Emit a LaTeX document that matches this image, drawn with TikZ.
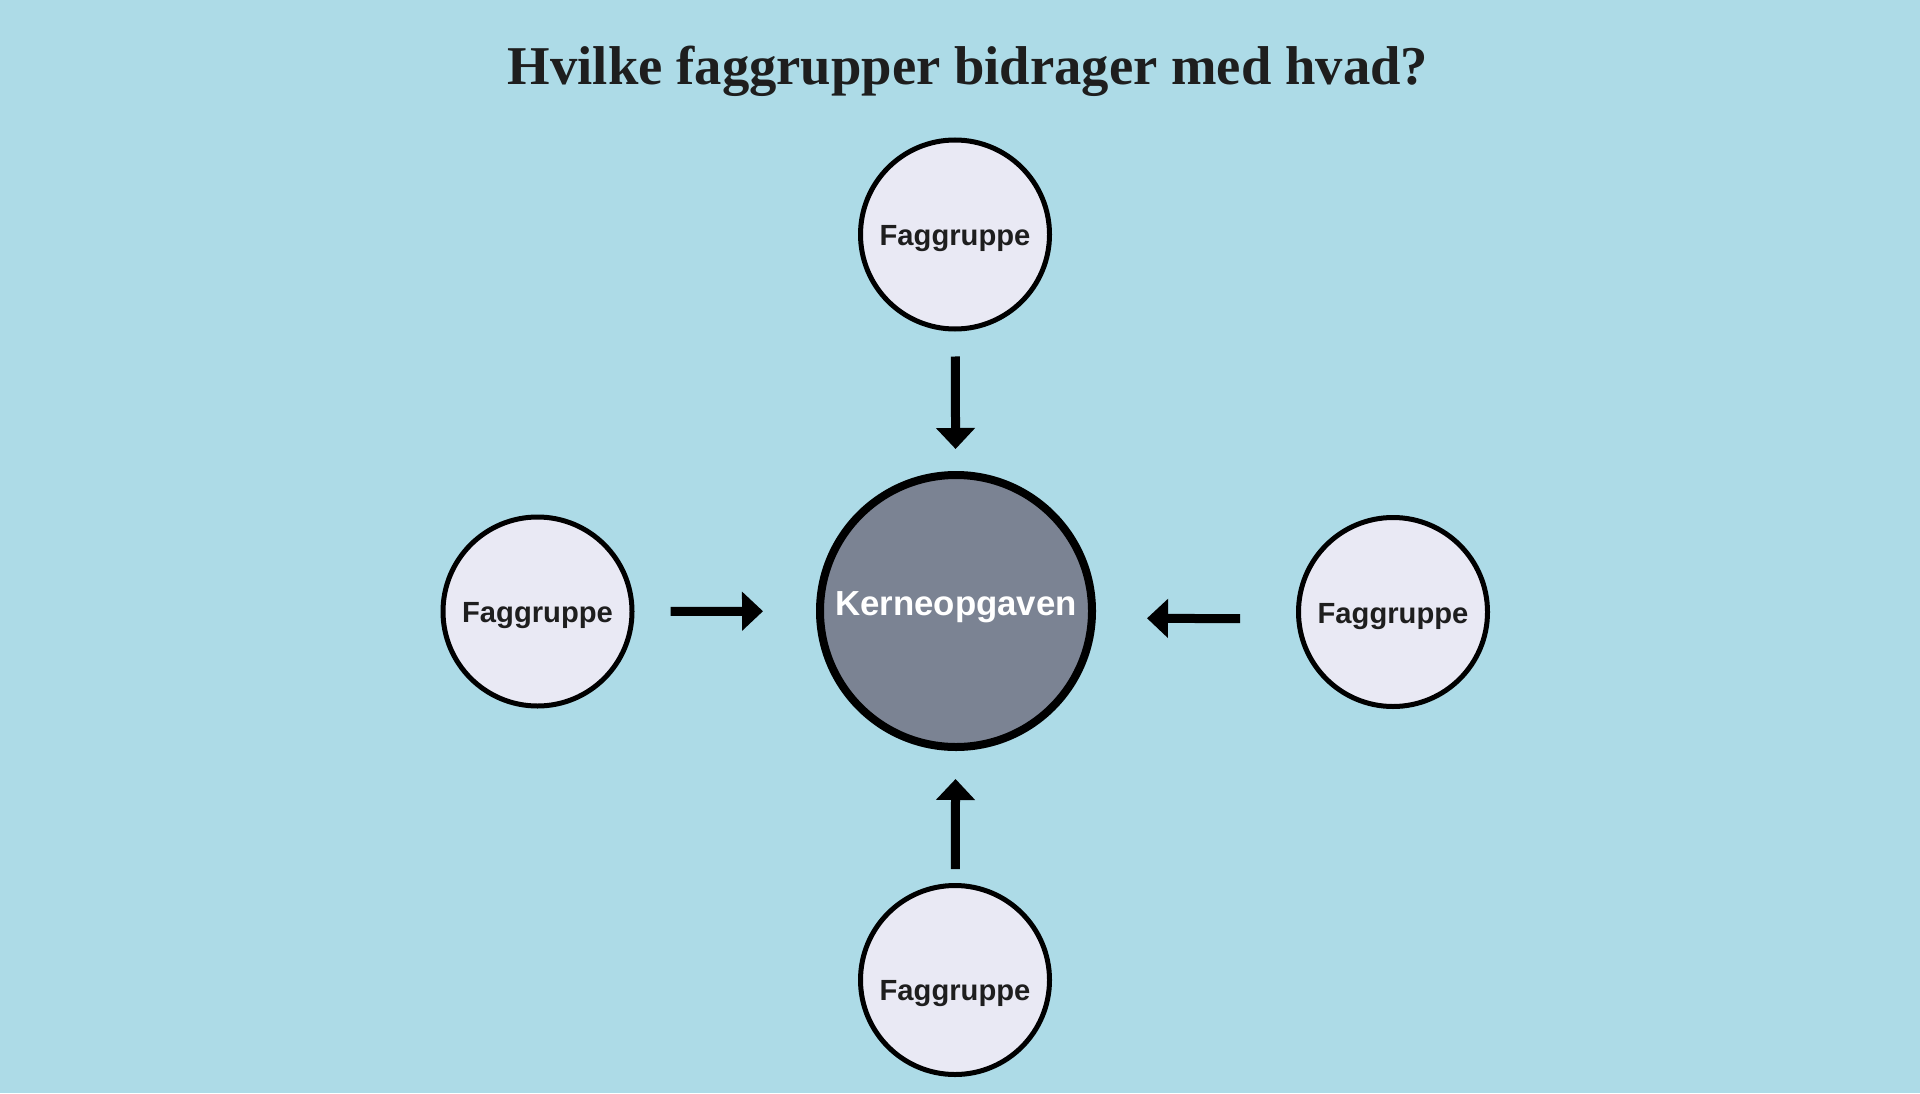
\documentclass[tikz,border=0pt]{standalone}
\usepackage{fontspec}
\usepackage{xcolor}
\usepackage{tikz}
\usetikzlibrary{arrows.meta}
\newfontfamily\sansfont{Liberation Sans}
\newfontfamily\headfont{Liberation Serif}
\definecolor{bgblue}{HTML}{ADDBE7}
\definecolor{grpfill}{HTML}{E9E9F4}
\definecolor{corefill}{HTML}{7B8393}
\definecolor{inkdark}{HTML}{1E1E1E}
\tikzset{
  groupnode/.style={circle, draw=black, line width=0.05cm, fill=grpfill, minimum size=1.89cm, inner sep=0pt,
    font=\sansfont\bfseries\fontsize{8.3}{10}\selectfont, text=inkdark, text height=8.2pt, text depth=1.74pt},
  corenode/.style={circle, draw=black, line width=0.08cm, fill=corefill, minimum size=2.72cm, inner sep=0pt,
    font=\sansfont\bfseries\fontsize{9.9}{12}\selectfont, text=white, text height=7.1pt, text depth=4.8pt},
  bigarrow/.style={line width=0.09cm, -{Triangle[length=0.21cm, width=0.38cm]}}
}

\begin{document}
\begin{tikzpicture}
        \fill[bgblue] (0,0) rectangle (19.2,10.93);
        \useasboundingbox (0,0) rectangle (19.2,10.93);
        \node[anchor=base, text=inkdark] (title) at (9.68,10.08)
            {\resizebox{9.2cm}{!}{\headfont\bfseries Hvilke faggrupper bidrager med hvad?}};
        \node[corenode] (core) at (9.56,4.82) {Kerneopgaven};
        \node[groupnode] (topgrp) at (9.55,8.585) {Faggruppe};
        \node[groupnode] (leftgrp) at (5.375,4.815) {Faggruppe};
        \node[groupnode] (rightgrp) at (13.93,4.81) {Faggruppe};
        \node[groupnode, text height=13.4pt] (bottomgrp) at (9.55,1.13) {Faggruppe};
        \draw[bigarrow, shorten <=0.25cm, shorten >=0.22cm] (topgrp) -- (core);
        \draw[bigarrow, shorten <=0.14cm, shorten >=0.28cm] (bottomgrp) -- (core);
        \draw[bigarrow, shorten <=0.36cm, shorten >=0.53cm] (leftgrp) -- (core);
        \draw[bigarrow, shorten <=0.56cm, shorten >=0.51cm] ([yshift=-0.07cm]rightgrp.west) -- ([yshift=-0.07cm]core.east);
    \end{tikzpicture}
\end{document}
